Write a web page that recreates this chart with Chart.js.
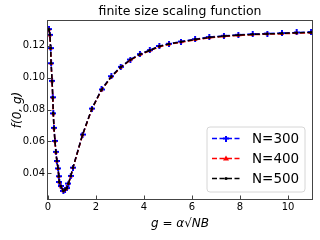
<!DOCTYPE html>
<html>
<head>
<meta charset="utf-8">
<script src="https://cdn.jsdelivr.net/npm/chart.js@4/dist/chart.umd.min.js"></script>
<style>
  body { margin: 0; background: #fff; }
  #wrap { width: 320px; height: 240px; }
</style>
</head>
<body>
<div id="wrap"><canvas id="scalingChart" width="320" height="240"></canvas></div>
<script>
// values
var gValues = [0.04, 0.08, 0.11, 0.13, 0.17, 0.20, 0.22, 0.25, 0.29, 0.33, 0.37, 0.42, 0.45, 0.47, 0.53,
    0.64, 0.71, 0.78, 0.85, 0.95, 1.04, 1.44, 1.83, 2.23, 2.64, 3.03, 3.43, 3.83, 4.24, 4.64,
    5.04, 5.54, 6.13, 6.72, 7.33, 7.93, 8.53, 9.14, 9.75, 10.36, 10.96];
var f300 = [0.1305, 0.1269, 0.1186, 0.1091, 0.0980, 0.0877, 0.0776, 0.0685, 0.0603, 0.0534, 0.0477, 0.0430, 0.0381, 0.0345, 0.0320,
    0.0289, 0.0297, 0.0307, 0.0335, 0.0383, 0.0435, 0.0643, 0.0806, 0.0926, 0.1009, 0.1068, 0.1114, 0.1148, 0.1173, 0.1199,
    0.1213, 0.1227, 0.1242, 0.1255, 0.1263, 0.1269, 0.1274, 0.1277, 0.1280, 0.1284, 0.1286];
var f400 = [0.1302, 0.1266, 0.1183, 0.1088, 0.0977, 0.0874, 0.0773, 0.0682, 0.0600, 0.0531, 0.0474, 0.0427, 0.0378, 0.0342, 0.0317,
    0.0287, 0.0295, 0.0305, 0.0333, 0.0381, 0.0433, 0.0640, 0.0803, 0.0922, 0.1005, 0.1064, 0.1110, 0.1144, 0.1169, 0.1195,
    0.1209, 0.1223, 0.1238, 0.1251, 0.1259, 0.1265, 0.1270, 0.1273, 0.1276, 0.1280, 0.1282];
var f500 = [0.1304, 0.1268, 0.1185, 0.1090, 0.0979, 0.0876, 0.0775, 0.0684, 0.0602, 0.0533, 0.0476, 0.0429, 0.0380, 0.0344, 0.0319,
    0.0288, 0.0296, 0.0306, 0.0334, 0.0382, 0.0434, 0.0642, 0.0805, 0.0924, 0.1007, 0.1066, 0.1112, 0.1146, 0.1171, 0.1197,
    0.1211, 0.1225, 0.1240, 0.1253, 0.1261, 0.1267, 0.1272, 0.1275, 0.1278, 0.1282, 0.1284];
var seriesLabels = ['N=300', 'N=400', 'N=500'];
var xTicks = [0, 2, 4, 6, 8, 10];
var yTicks = [0.04, 0.06, 0.08, 0.10, 0.12];
var chartTitle = 'finite size scaling function';

var FONT = "'DejaVu Sans', sans-serif";

// filled plus marker for N=300 (matplotlib "P")
function plusMarker(color, size) {
    var c = document.createElement('canvas');
    c.width = size; c.height = size;
    var g = c.getContext('2d');
    var t = 2, o = (size - t) / 2;
    g.fillStyle = color;
    g.fillRect(0, o, size, t);
    g.fillRect(o, 0, t, size);
    return c;
}
var bluePlus = plusMarker('#0000ff', 6);

function toPoints(ys) {
    return gValues.map((g, i) => ({ x: g, y: ys[i] }));
}

var datasets = [
    { label: seriesLabels[0], data: toPoints(f300), borderColor: '#0000ff', backgroundColor: '#0000ff',
      pointStyle: bluePlus, pointRadius: 3, order: 3 },
    { label: seriesLabels[1], data: toPoints(f400), borderColor: '#ff0000', backgroundColor: '#ff0000',
      pointStyle: 'triangle', pointRadius: 2.3, order: 2 },
    { label: seriesLabels[2], data: toPoints(f500), borderColor: '#000000', backgroundColor: '#000000',
      pointStyle: 'circle', pointRadius: 1.4, order: 1 }
].map(d => Object.assign(d, {
    borderWidth: 1.5, borderDash: [5, 2.5], fill: false, tension: 0,
    pointBorderWidth: 0, pointHoverRadius: 0
}));

// title over the plot, frame, inward ticks and the legend box inside the plot
var framePlugin = {
    id: 'framePlugin',
    afterDraw(chart) {
        var ctx = chart.ctx, a = chart.chartArea;
        var xs = chart.scales.x, ys = chart.scales.y;
        ctx.save();
        ctx.fillStyle = '#000';
        ctx.font = '12.5px ' + FONT;
        ctx.textAlign = 'center';
        ctx.textBaseline = 'middle';
        ctx.fillText(chartTitle, (a.left + a.right) / 2, 12);

        ctx.strokeStyle = '#444';
        ctx.lineWidth = 1;
        ctx.strokeRect(Math.round(a.left) - 0.5, Math.round(a.top) - 0.5,
            Math.round(a.right - a.left) + 1, Math.round(a.bottom - a.top) + 1);
        ctx.beginPath();
        xTicks.forEach(v => {
            var px = Math.round(xs.getPixelForValue(v)) + 0.5;
            ctx.moveTo(px, a.bottom); ctx.lineTo(px, a.bottom - 3.5);
        });
        yTicks.forEach(v => {
            var py = Math.round(ys.getPixelForValue(v)) + 0.5;
            ctx.moveTo(a.left, py); ctx.lineTo(a.left + 3.5, py);
        });
        ctx.stroke();

        // legend
        var bx = 207, by = 127, bw = 98, bh = 65, r = 3;
        ctx.beginPath();
        ctx.moveTo(bx + r, by);
        ctx.arcTo(bx + bw, by, bx + bw, by + bh, r);
        ctx.arcTo(bx + bw, by + bh, bx, by + bh, r);
        ctx.arcTo(bx, by + bh, bx, by, r);
        ctx.arcTo(bx, by, bx + bw, by, r);
        ctx.closePath();
        ctx.fillStyle = 'rgba(255,255,255,0.8)';
        ctx.fill();
        ctx.strokeStyle = '#d6d6d6';
        ctx.stroke();

        var rows = [138, 158, 178];
        datasets.forEach((d, i) => {
            var cy = rows[i] + 0.5;
            ctx.strokeStyle = d.borderColor;
            ctx.lineWidth = 1.5;
            ctx.setLineDash([5, 2.5]);
            ctx.beginPath();
            ctx.moveTo(212, cy); ctx.lineTo(240, cy);
            ctx.stroke();
            ctx.setLineDash([]);
            ctx.fillStyle = d.backgroundColor;
            if (i === 0) {
                ctx.drawImage(bluePlus, 226 - 3, cy - 3);
            } else if (i === 1) {
                ctx.beginPath();
                ctx.moveTo(226, cy - 3); ctx.lineTo(229, cy + 2); ctx.lineTo(223, cy + 2);
                ctx.closePath(); ctx.fill();
            } else {
                ctx.beginPath(); ctx.arc(226, cy, 1.6, 0, Math.PI * 2); ctx.fill();
            }
            ctx.fillStyle = '#000';
            ctx.font = '13.5px ' + FONT;
            ctx.textAlign = 'left';
            ctx.textBaseline = 'middle';
            ctx.fillText(d.label, 252, cy + 0.5);
        });
        ctx.restore();
    }
};

var scalingChart = new Chart(document.getElementById('scalingChart').getContext('2d'), {
    type: 'line',
    data: { datasets: datasets },
    plugins: [framePlugin],
    options: {
        responsive: false,
        devicePixelRatio: 1,
        animation: false,
        events: [],
        layout: { padding: { left: 0, right: 8, top: 21, bottom: 0 } },
        plugins: {
            legend: { display: false },
            tooltip: { enabled: false },
            title: { display: false }
        },
        scales: {
            x: {
                type: 'linear',
                min: 0, max: 11,
                afterBuildTicks: s => { s.ticks = xTicks.map(v => ({ value: v })); },
                afterFit: s => { s.height = 41; },
                grid: { display: false, drawTicks: false },
                border: { display: false },
                ticks: { color: '#000', padding: 2, maxRotation: 0, font: { family: FONT, size: 10 } },
                title: {
                    display: true, text: 'g = α√NB', color: '#000',
                    font: { family: FONT, size: 12, style: 'italic', lineHeight: 1.2 },
                    padding: { top: 0, bottom: 8.8 }
                }
            },
            y: {
                type: 'linear',
                min: 0.0238, max: 0.1356,
                afterBuildTicks: s => { s.ticks = yTicks.map(v => ({ value: v })); },
                afterFit: s => { s.width = 48; },
                grid: { display: false, drawTicks: false },
                border: { display: false },
                ticks: {
                    color: '#000', padding: 3, font: { family: FONT, size: 10 },
                    callback: v => v.toFixed(2)
                },
                title: {
                    display: true, text: 'f(0, g)', color: '#000',
                    font: { family: FONT, size: 12, style: 'italic', lineHeight: 1.2 },
                    padding: { top: 10.5, bottom: 0 }
                }
            }
        }
    }
});
</script>
</body>
</html>
